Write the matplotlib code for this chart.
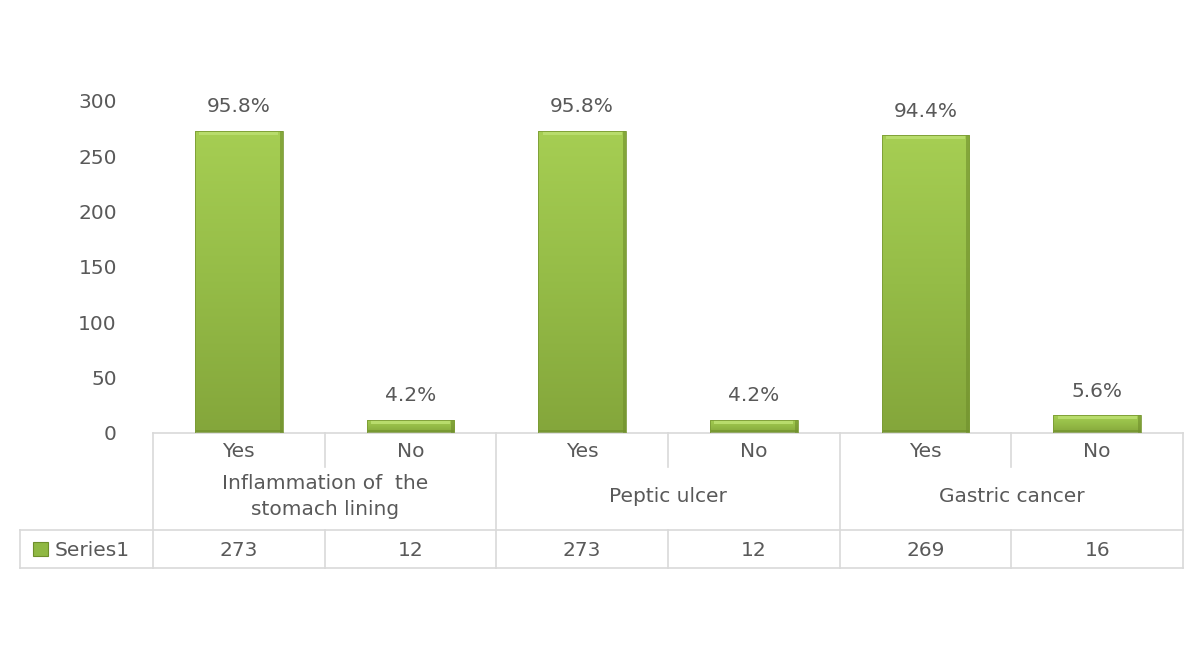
import numpy as np
import matplotlib.pyplot as plt
from matplotlib.colors import LinearSegmentedColormap
from matplotlib.patches import Rectangle
import matplotlib.transforms as mtransforms

plt.rcParams['font.family'] = ['DejaVu Sans']

groups = ["Inflammation of  the\nstomach lining", "Peptic ulcer", "Gastric cancer"]
answers = ["Yes", "No", "Yes", "No", "Yes", "No"]
counts = [273, 12, 273, 12, 269, 16]
percents = ["95.8%", "4.2%", "95.8%", "4.2%", "94.4%", "5.6%"]
series_name = "Series1"

grey = "#595959"
line_col = "#d9d9d9"
fs = 14.5
green_cmap = LinearSegmentedColormap.from_list("bar", ["#84a63b", "#95bc47", "#a6ce53"])

fig = plt.figure(figsize=(12.01, 6.51), dpi=100)
ax = fig.add_axes([0.1274, 0.3349, 0.8576, 0.51])

x = np.arange(len(counts))
bars = ax.bar(x, counts, width=0.51, color="none", edgecolor="#7a9a35", linewidth=0.6, zorder=3)

grad = np.linspace(0, 1, 256).reshape(-1, 1)
for b, pct in zip(bars, percents):
    x0, w, h = b.get_x(), b.get_width(), b.get_height()
    im = ax.imshow(grad, cmap=green_cmap, origin="lower", aspect="auto",
                   extent=(x0, x0 + w, 0, h), zorder=2)
    im.set_clip_path(b)
    # bevel: light top, darker right side and bottom
    ax.add_patch(Rectangle((x0 + w * 0.05, h - 3.6), w * 0.9, 3.0, color="#b8dc6c",
                           lw=0, zorder=2.5))
    ax.add_patch(Rectangle((x0 + w - 0.018, 0), 0.018, h, color="#6f8e2c",
                           lw=0, alpha=0.6, zorder=2.5))
    ax.add_patch(Rectangle((x0, 0), w, min(2.5, h * 0.25), color="#6f8e2c",
                           lw=0, alpha=0.6, zorder=2.5))
    ax.text(x0 + w / 2, h + 13, pct, ha="center", va="bottom", fontsize=fs, color=grey)

ax.set_xlim(-0.5, len(counts) - 0.5)
ax.set_ylim(0, 300)
ax.set_yticks(np.arange(0, 301, 50))
ax.tick_params(axis="y", length=0, pad=26, labelsize=fs, labelcolor=grey)
ax.set_xticks([])
for s in ax.spines.values():
    s.set_visible(False)

# data table under the axis
trans = mtransforms.blended_transform_factory(ax.transData, ax.transAxes)
y_top, y_ans, y_grp, y_bot = 0.0, -0.102, -0.292, -0.4066
x_left = -1.275
lk = dict(color=line_col, lw=1.2, transform=trans, clip_on=False)
ax.plot([-0.5, 5.5], [y_top, y_top], **lk)
ax.plot([x_left, 5.5], [y_grp, y_grp], **lk)
ax.plot([x_left, 5.5], [y_bot, y_bot], **lk)
ax.plot([x_left, x_left], [y_grp, y_bot], **lk)
for xv in [-0.5, 1.5, 3.5, 5.5]:
    ax.plot([xv, xv], [y_top, y_bot], **lk)
for xv in [0.5, 2.5, 4.5]:
    ax.plot([xv, xv], [y_top, y_ans], **lk)
    ax.plot([xv, xv], [y_grp, y_bot], **lk)

for xi, a, c in zip(x, answers, counts):
    ax.text(xi, (y_top + y_ans) / 2 - 0.005, a, ha="center", va="center", fontsize=fs,
            color=grey, transform=trans)
    ax.text(xi, (y_grp + y_bot) / 2 - 0.005, str(c), ha="center", va="center", fontsize=fs,
            color=grey, transform=trans)
for gi, g in enumerate(groups):
    ax.text(2 * gi + 0.5, (y_ans + y_grp) / 2 + 0.005, g, ha="center", va="center",
            fontsize=fs, color=grey, transform=trans, linespacing=1.45)

# legend key in the table
ax.add_patch(Rectangle((x_left + 0.075, (y_grp + y_bot) / 2 - 0.022), 0.09, 0.042,
                       transform=trans, clip_on=False, facecolor="#8fb843",
                       edgecolor="#6e8f2b", lw=0.8))
ax.text(x_left + 0.2, (y_grp + y_bot) / 2 - 0.005, series_name, ha="left", va="center",
        fontsize=fs, color=grey, transform=trans)

fig.savefig("out.png", dpi=100)
